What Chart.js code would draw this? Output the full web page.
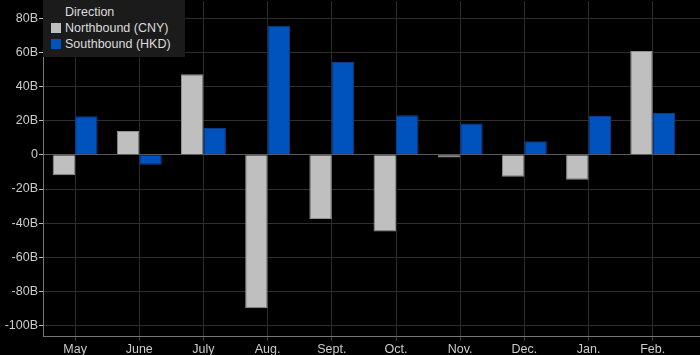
<!DOCTYPE html>
<html>
<head>
  <title>Stock Connect flows</title>
  <script src="https://cdn.jsdelivr.net/npm/chart.js@4"></script>
  <style>
    html, body {
      margin: 0;
      background: #000;
      overflow: hidden;
    }
    #wrap {
      position: relative;
      width: 749px;
      height: 362px;
    }
    #legend {
      position: absolute;
      left: 43px;
      top: 0;
      width: 142px;
      height: 57px;
      background: #1b1b1b;
      font: 12.5px "Liberation Sans", Arial, sans-serif;
      color: #ddd;
    }
    #legend div {
      position: absolute;
      left: 22px;
      line-height: 15px;
      white-space: nowrap;
    }
    #legend span {
      position: absolute;
      left: -14px;
      top: 2px;
      width: 10px;
      height: 10px;
    }
  </style>
</head>
<body>
  <div id="wrap">
    <canvas id="flows"></canvas>
    <div id="legend"></div>
  </div>

  <script>
    const months = ["May", "June", "July", "Aug.", "Sept.", "Oct.", "Nov.", "Dec.", "Jan.", "Feb."];
    const seriesNames = ["Northbound (CNY)", "Southbound (HKD)"];
    const northbound = [-12, 13.9, 47.1, -89.8, -37.6, -44.8, -1.6, -12.8, -14.6, 60.7];
    const southbound = [22.5, -5.8, 15.7, 75.5, 54.3, 23.1, 18.4, 7.9, 22.7, 24.5];
    const yMin = -106;
    const yMax = 90;
    const yStep = 10;   // grid every 10B, label every 20B
    const legendTitle = "Direction";

    const colors = ["#bfbfbf", "#0052bd"];
    const edges = ["#8f8f8f", "#0a3c8c"];
    const font = { family: "'Liberation Sans', Arial, sans-serif", size: 12.5 };

    // legend box sits over the top-left corner of the plot
    const legend = document.getElementById("legend");
    let html = `<div style="top:5px">${legendTitle}</div>`;
    seriesNames.forEach((name, i) => {
      html += `<div style="top:${21 + i * 16}px"><span style="background:${colors[i]}"></span>${name}</div>`;
    });
    legend.innerHTML = html;

    new Chart(document.getElementById("flows"), {
      type: "bar",
      data: {
        // empty slot at the end so the grid runs on past Feb. to the edge
        labels: months.concat([""]),
        datasets: [
          { label: seriesNames[0], data: northbound, backgroundColor: colors[0], borderColor: edges[0], borderWidth: 1 },
          { label: seriesNames[1], data: southbound, backgroundColor: colors[1], borderColor: edges[1], borderWidth: 1 },
        ],
      },
      options: {
        responsive: true,
        maintainAspectRatio: false,
        animation: false,
        layout: { padding: { top: 1, left: 0, right: 0, bottom: 0 } },
        datasets: { bar: { categoryPercentage: 0.7, barPercentage: 1 } },
        plugins: {
          legend: { display: false },
          tooltip: { enabled: false },
        },
        scales: {
          x: {
            offset: true,
            grid: { offset: false, color: "#2b2b2b", tickLength: 5, tickColor: "#3a3a3a" },
            border: { color: "#777" },
            ticks: { color: "#ccc", font: font, padding: 1, maxRotation: 0, autoSkip: false },
            afterFit: (s) => { s.height = 26; },
          },
          y: {
            min: yMin,
            max: yMax,
            grid: {
              color: (c) => (c.tick && c.tick.value === 0 ? "#5a5a5a" : "#2e2e2e"),
              tickLength: 4,
              tickColor: (c) => (c.tick && c.tick.value % 20 === 0 ? "#bbb" : "#444"),
            },
            border: { color: "#777" },
            ticks: {
              stepSize: yStep,
              includeBounds: false,
              color: "#ccc",
              font: font,
              padding: 1,
              callback: (v) => (v % 20 ? "" : v === 0 ? "0" : v + "B"),
            },
            afterFit: (s) => { s.width = 43; s.paddingTop = 0; s.paddingBottom = 0; },
          },
        },
      },
    });
  </script>
</body>
</html>
